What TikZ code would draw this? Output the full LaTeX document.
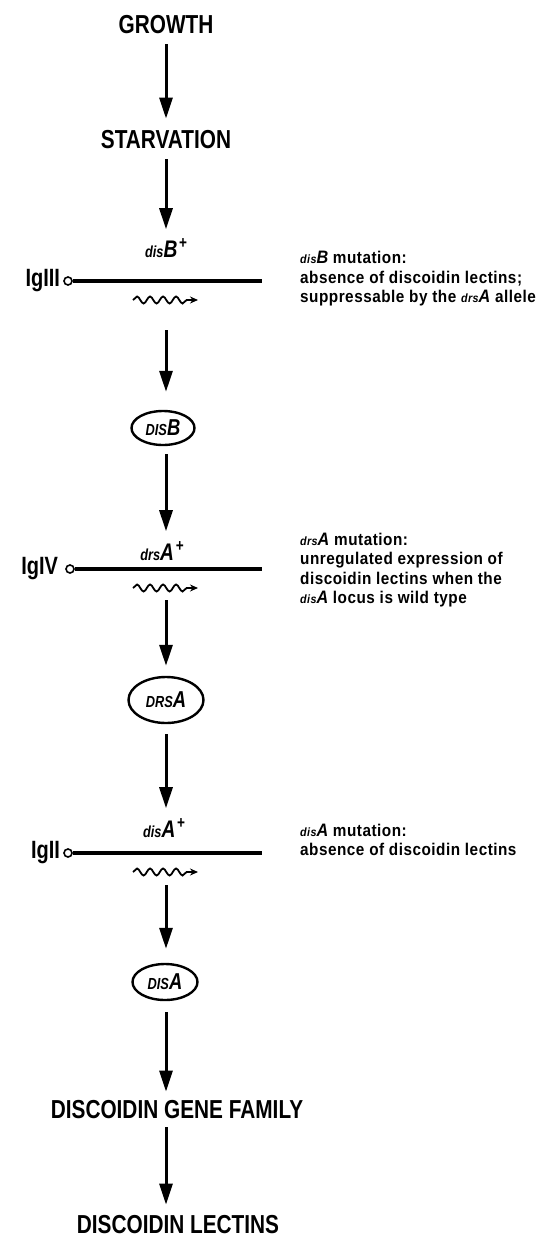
\documentclass[tikz,border=0pt]{standalone}
\usepackage{fontspec}
\setmainfont{Liberation Sans}[FakeStretch=0.8]
\newfontfamily\notefont{Liberation Sans}[FakeStretch=0.9,LetterSpace=3]
\usetikzlibrary{arrows.meta,decorations.pathmorphing,shapes.geometric}

% gene names: small lower-case part, large capital
\newcommand{\glab}[2]{{\itshape\fontsize{16}{16}\selectfont #1}{\itshape\fontsize{24}{24}\selectfont #2}\,\raisebox{9pt}{\fontsize{17}{17}\selectfont +}}
\newcommand{\gprot}[2]{{\itshape\fontsize{16}{16}\selectfont #1}{\itshape\fontsize{23}{23}\selectfont #2}}
\newcommand{\gnote}[2]{{\itshape\fontsize{12}{12}\selectfont #1}{\itshape\fontsize{18}{18}\selectfont #2}}

\begin{document}
\begin{tikzpicture}[x = 1pt, y = -1pt,
	title/.style = {font = \bfseries\fontsize{26}{26}\selectfont, inner sep = 0pt},
	genelab/.style = {font = \bfseries, inner sep = 0pt},
	prot/.style = {ellipse, draw, line width = 2.4pt, inner sep = 0pt, font = \bfseries},
	lg/.style = {font = \bfseries\fontsize{25}{25}\selectfont, inner sep = 0pt, anchor = east},
	locus/.style = {circle, draw, line width = 1.6pt, inner sep = 0pt, minimum size = 8pt},
	gene/.style = {line width = 3.2pt},
	tx/.style = {line width = 1.8pt, decorate, decoration = {snake, segment length = 13pt, amplitude = 3.5pt, post length = 10pt}, -{Stealth[length = 8pt, width = 7pt]}},
	arr/.style = {line width = 3pt, -{Triangle[length = 21pt, width = 13pt]}},
	note/.style = {font = \notefont\bfseries\fontsize{17}{19.5}\selectfont, align = left, anchor = west, inner sep = 0pt}]
	\useasboundingbox (0,0) rectangle (549,1239);

	% pathway column
	\node[title] (growth) at (166,25) {GROWTH};
	\node[title] (starv) at (166,140) {STARVATION};
	\node[genelab] (disBlab) at (166,248) {\glab{dis}{B}};
	\node[prot, minimum width = 63pt, minimum height = 34pt] (disBprot) at (163,428) {\gprot{DIS}{B}};
	\node[genelab] (drsAlab) at (162,551) {\glab{drs}{A}};
	\node[prot, minimum width = 75pt, minimum height = 46pt] (drsAprot) at (166,700) {\gprot{DRS}{A}};
	\node[genelab] (disAlab) at (164,828) {\glab{dis}{A}};
	\node[prot, minimum width = 65pt, minimum height = 36pt] (disAprot) at (165,982) {\gprot{DIS}{A}};
	\node[title] (family) at (177,1110) {DISCOIDIN GENE FAMILY};
	\node[title] (lectins) at (178,1225) {DISCOIDIN LECTINS};

	% loci
	\node[locus] (cIII) at (68,281) {};
	\coordinate (eIII) at (262,281);
	\node[lg] (lgIII) at ([xshift = -3pt]cIII.west) {IgIII};
	\draw[gene] (cIII) -- (eIII);
	\coordinate (txB1) at (133,300);
	\coordinate (txB2) at (198,300);
	\draw[tx] (txB1) -- (txB2);
	\coordinate (txB) at (166,300);

	\node[locus] (cIV) at (70,569) {};
	\coordinate (eIV) at (262,569);
	\node[lg] (lgIV) at ([xshift = -7pt]cIV.west) {IgIV};
	\draw[gene] (cIV) -- (eIV);
	\coordinate (txA1) at (133,588);
	\coordinate (txA2) at (198,588);
	\draw[tx] (txA1) -- (txA2);
	\coordinate (txA) at (166,588);

	\node[locus] (cII) at (68,853) {};
	\coordinate (eII) at (262,853);
	\node[lg] (lgII) at ([xshift = -3pt]cII.west) {IgII};
	\draw[gene] (cII) -- (eII);
	\coordinate (txII1) at (133,872);
	\coordinate (txII2) at (198,872);
	\draw[tx] (txII1) -- (txII2);
	\coordinate (txII) at (166,872);

	% arrows
	\draw[arr, shorten <= 10pt, shorten >= 12pt] (growth) -- (starv);
	\draw[arr, shorten <= 10pt, shorten >= 9pt] (starv) -- (disBlab);
	\draw[arr, shorten <= 30pt, shorten >= 18pt] (txB) -- (txB |- disBprot.north);
	\draw[arr, shorten <= 8pt, shorten >= 10pt] (disBprot.south -| txB) -- (drsAlab.north -| txB);
	\draw[arr, shorten <= 12pt, shorten >= 10pt] (txA) -- (drsAprot);
	\draw[arr, shorten <= 10pt, shorten >= 10pt] (drsAprot) -- (drsAprot.south |- disAlab.north);
	\draw[arr, shorten <= 13pt, shorten >= 14pt] (txII) -- (txII |- disAprot.north);
	\draw[arr, shorten <= 11pt, shorten >= 9pt] (disAprot.south -| txII) -- (family.north -| txII);
	\draw[arr, shorten <= 8pt, shorten >= 11pt] (family.south -| txII) -- (lectins.north -| txII);

	% mutation notes
	\node[note] (noteB) at (300,279) {\gnote{dis}{B} mutation:\\absence of discoidin lectins;\\suppressable by the \gnote{drs}{A} allele};
	\node[note] (noteA) at (300,570) {\gnote{drs}{A} mutation:\\unregulated expression of\\discoidin lectins when the\\\gnote{dis}{A} locus is wild type};
	\node[note] (noteII) at (300,840) {\gnote{dis}{A} mutation:\\absence of discoidin lectins};
\end{tikzpicture}
\end{document}
